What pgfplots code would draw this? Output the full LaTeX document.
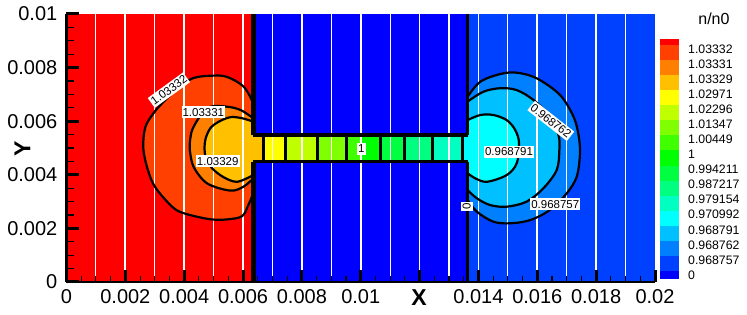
\documentclass[border=0pt]{standalone}
\usepackage{pgfplots}
\usepackage{pgfplotstable}
\usepackage{fontspec}
\setmainfont{Liberation Sans}
\pgfplotsset{compat=1.18}
\tikzset{contournode/.style={fill=white,inner xsep=1pt,inner ysep=0pt,minimum height=12pt,font=\fontsize{11.5}{11.5}\selectfont,text=black}}
\definecolor{c17}{RGB}{255,0,0}
\definecolor{c16}{RGB}{255,64,0}
\definecolor{c15}{RGB}{255,128,0}
\definecolor{c14}{RGB}{255,192,0}
\definecolor{c13}{RGB}{255,255,0}
\definecolor{c12}{RGB}{192,255,0}
\definecolor{c11}{RGB}{128,255,0}
\definecolor{c10}{RGB}{64,255,0}
\definecolor{c9}{RGB}{0,255,0}
\definecolor{c8}{RGB}{0,255,64}
\definecolor{c7}{RGB}{0,255,128}
\definecolor{c6}{RGB}{0,255,192}
\definecolor{c5}{RGB}{0,255,255}
\definecolor{c4}{RGB}{0,192,255}
\definecolor{c3}{RGB}{0,128,255}
\definecolor{c2}{RGB}{0,64,255}
\definecolor{c1}{RGB}{0,0,255}
\pgfplotstableread{
x y
0.00635 0.00667
0.00602 0.00729
0.00546 0.00765
0.00499 0.00770
0.00431 0.00761
0.00380 0.00724
0.00326 0.00668
0.00296 0.00630
0.00268 0.00578
0.00261 0.00500
0.00276 0.00420
0.00302 0.00353
0.00359 0.00281
0.00400 0.00256
0.00489 0.00234
0.00550 0.00234
0.00597 0.00246
0.00618 0.00287
0.00635 0.00332
}\outerL
\pgfplotstableread{
x y
0.00635 0.00611
0.00591 0.00642
0.00546 0.00654
0.00489 0.00654
0.00455 0.00620
0.00427 0.00567
0.00419 0.00518
0.00419 0.00493
0.00432 0.00430
0.00478 0.00368
0.00557 0.00341
0.00602 0.00356
0.00635 0.00387
}\midL
\pgfplotstableread{
x y
0.00635 0.00598
0.00597 0.00611
0.00557 0.00615
0.00517 0.00598
0.00489 0.00574
0.00473 0.00536
0.00469 0.00499
0.00474 0.00462
0.00495 0.00424
0.00534 0.00391
0.00580 0.00374
0.00635 0.00399
}\innerL
\pgfplotstableread{
x y
0.01363 0.00691
0.01406 0.00747
0.01474 0.00776
0.01530 0.00781
0.01598 0.00760
0.01677 0.00698
0.01723 0.00617
0.01740 0.00549
0.01745 0.00480
0.01734 0.00393
0.01700 0.00331
0.01643 0.00269
0.01576 0.00231
0.01508 0.00219
0.01451 0.00225
0.01395 0.00262
0.01363 0.00306
}\outerR
\pgfplotstableread{
x y
0.01363 0.00673
0.01417 0.00710
0.01474 0.00723
0.01530 0.00716
0.01587 0.00679
0.01643 0.00617
0.01672 0.00549
0.01675 0.00493
0.01666 0.00418
0.01621 0.00350
0.01564 0.00300
0.01496 0.00281
0.01440 0.00287
0.01395 0.00312
0.01363 0.00343
}\midR
\pgfplotstableread{
x y
0.01363 0.00604
0.01406 0.00623
0.01451 0.00623
0.01496 0.00604
0.01525 0.00567
0.01538 0.00518
0.01530 0.00443
0.01496 0.00399
0.01429 0.00374
0.01389 0.00387
0.01363 0.00406
}\innerR
\begin{document}
\begin{tikzpicture}
\useasboundingbox (-66.5pt,-33pt) rectangle (680.5pt,282pt);
\begin{axis}[
  scale only axis, width=588.5pt, height=268pt,
  at={(0pt,0pt)}, anchor=south west,
  xmin=0, xmax=0.02, ymin=0, ymax=0.01,
  scaled ticks=false,
  axis on top,
  axis x line=bottom, axis y line=left,
  x axis line style={-,line width=2.5pt},
  y axis line style={-,line width=3pt},
  xtick={0,0.002,0.004,0.006,0.008,0.01,0.012,0.014,0.016,0.018,0.02},
  xticklabels={0,0.002,0.004,0.006,0.008,0.01,{},0.014,0.016,0.018,0.02},
  ytick={0,0.002,0.004,0.006,0.008,0.01},
  yticklabels={0,0.002,0.004,0.006,0.008,0.01},
  tick align=inside,
  major tick length=12pt,
  major tick style={draw=black,line width=3pt},
  tick label style={font=\fontsize{20}{20}\selectfont},
  xticklabel style={inner sep=0pt,anchor=north,yshift=-7pt},
  yticklabel style={inner sep=0pt,anchor=east,xshift=-9pt},
  xlabel={X}, ylabel={Y},
  xlabel style={at={(0.599,0)},anchor=center,yshift=-16pt,font=\bfseries\fontsize{23}{23}\selectfont},
  ylabel style={at={(0,0.4963)},anchor=center,yshift=44pt,font=\bfseries\fontsize{23}{23}\selectfont},
]
% regions
\addplot[fill=c17,draw=none] coordinates {(0,0) (0.00635,0) (0.00635,0.01) (0,0.01)};
\addplot[fill=c1,draw=none] coordinates {(0.00635,0) (0.01363,0) (0.01363,0.01) (0.00635,0.01)};
\addplot[fill=c2,draw=none] coordinates {(0.01363,0) (0.02,0) (0.02,0.01) (0.01363,0.01)};
\addplot[fill=c16,draw=none,smooth,tension=0.55] table {\outerL};
\addplot[fill=c15,draw=none,smooth,tension=0.55] table {\midL};
\addplot[fill=c14,draw=none,smooth,tension=0.55] table {\innerL};
\addplot[fill=c3,draw=none,smooth,tension=0.55] table {\outerR};
\addplot[fill=c4,draw=none,smooth,tension=0.55] table {\midR};
\addplot[fill=c5,draw=none,smooth,tension=0.55] table {\innerR};
% channel
\addplot[fill=c14,draw=none] coordinates {(0.00635,0.00449) (0.00669,0.00449) (0.00669,0.00549) (0.00635,0.00549)};
\addplot[fill=c13,draw=none] coordinates {(0.00669,0.00449) (0.00745,0.00449) (0.00745,0.00549) (0.00669,0.00549)};
\addplot[fill=c12,draw=none] coordinates {(0.00745,0.00449) (0.00853,0.00449) (0.00853,0.00549) (0.00745,0.00549)};
\addplot[fill=c11,draw=none] coordinates {(0.00853,0.00449) (0.00951,0.00449) (0.00951,0.00549) (0.00853,0.00549)};
\addplot[fill=c10,draw=none] coordinates {(0.00951,0.00449) (0.01,0.00449) (0.01,0.00549) (0.00951,0.00549)};
\addplot[fill=c9,draw=none] coordinates {(0.01,0.00449) (0.01067,0.00449) (0.01067,0.00549) (0.01,0.00549)};
\addplot[fill=c8,draw=none] coordinates {(0.01067,0.00449) (0.01149,0.00449) (0.01149,0.00549) (0.01067,0.00549)};
\addplot[fill=c7,draw=none] coordinates {(0.01149,0.00449) (0.01244,0.00449) (0.01244,0.00549) (0.01149,0.00549)};
\addplot[fill=c6,draw=none] coordinates {(0.01244,0.00449) (0.01345,0.00449) (0.01345,0.00549) (0.01244,0.00549)};
\addplot[fill=c5,draw=none] coordinates {(0.01345,0.00449) (0.01363,0.00449) (0.01363,0.00549) (0.01345,0.00549)};
% white streamlines
\addplot[white,line width=1.1pt] coordinates {(0.001,0) (0.001,0.01)};
\addplot[white,line width=1.7pt] coordinates {(0.002,0) (0.002,0.01)};
\addplot[white,line width=1.1pt] coordinates {(0.003,0) (0.003,0.01)};
\addplot[white,line width=1.7pt] coordinates {(0.004,0) (0.004,0.01)};
\addplot[white,line width=1.1pt] coordinates {(0.005,0) (0.005,0.01)};
\addplot[white,line width=1.7pt] coordinates {(0.006,0) (0.006,0.01)};
\addplot[white,line width=1.1pt] coordinates {(0.007,0) (0.007,0.01)};
\addplot[white,line width=1.7pt] coordinates {(0.008,0) (0.008,0.01)};
\addplot[white,line width=1.1pt] coordinates {(0.009,0) (0.009,0.01)};
\addplot[white,line width=1.7pt] coordinates {(0.01,0) (0.01,0.01)};
\addplot[white,line width=1.1pt] coordinates {(0.011,0) (0.011,0.01)};
\addplot[white,line width=1.7pt] coordinates {(0.012,0) (0.012,0.01)};
\addplot[white,line width=1.1pt] coordinates {(0.013,0) (0.013,0.01)};
\addplot[white,line width=1.7pt] coordinates {(0.014,0) (0.014,0.01)};
\addplot[white,line width=1.1pt] coordinates {(0.015,0) (0.015,0.01)};
\addplot[white,line width=1.7pt] coordinates {(0.016,0) (0.016,0.01)};
\addplot[white,line width=1.1pt] coordinates {(0.017,0) (0.017,0.01)};
\addplot[white,line width=1.7pt] coordinates {(0.018,0) (0.018,0.01)};
\addplot[white,line width=1.1pt] coordinates {(0.019,0) (0.019,0.01)};
% minor ticks
\addplot[ycomb,black,line width=1.1pt] coordinates {(0.0005,0.00024) (0.001,0.00024) (0.0015,0.00024) (0.0025,0.00024) (0.003,0.00024) (0.0035,0.00024) (0.0045,0.00024) (0.005,0.00024) (0.0055,0.00024) (0.0065,0.00024) (0.007,0.00024) (0.0075,0.00024) (0.0085,0.00024) (0.009,0.00024) (0.0095,0.00024) (0.0105,0.00024) (0.011,0.00024) (0.0115,0.00024) (0.0125,0.00024) (0.013,0.00024) (0.0135,0.00024) (0.0145,0.00024) (0.015,0.00024) (0.0155,0.00024) (0.0165,0.00024) (0.017,0.00024) (0.0175,0.00024) (0.0185,0.00024) (0.019,0.00024) (0.0195,0.00024)};
\addplot[xcomb,black,line width=1.1pt] coordinates {(0.00026,0.0005) (0.00026,0.001) (0.00026,0.0015) (0.00026,0.0025) (0.00026,0.003) (0.00026,0.0035) (0.00026,0.0045) (0.00026,0.005) (0.00026,0.0055) (0.00026,0.0065) (0.00026,0.007) (0.00026,0.0075) (0.00026,0.0085) (0.00026,0.009) (0.00026,0.0095)};
% contours
\addplot[black,line width=2.2pt,smooth,tension=0.55] table {\outerL};
\addplot[black,line width=2.2pt,smooth,tension=0.55] table {\midL};
\addplot[black,line width=2.2pt,smooth,tension=0.55] table {\innerL};
\addplot[black,line width=2.2pt,smooth,tension=0.55] table {\outerR};
\addplot[black,line width=2.2pt,smooth,tension=0.55] table {\midR};
\addplot[black,line width=2.2pt,smooth,tension=0.55] table {\innerR};
% channel separators
\addplot[black,line width=3pt] coordinates {(0.00669,0.00449) (0.00669,0.00549)};
\addplot[black,line width=3pt] coordinates {(0.00745,0.00449) (0.00745,0.00549)};
\addplot[black,line width=3pt] coordinates {(0.00853,0.00449) (0.00853,0.00549)};
\addplot[black,line width=3pt] coordinates {(0.00951,0.00449) (0.00951,0.00549)};
\addplot[black,line width=3pt] coordinates {(0.01067,0.00449) (0.01067,0.00549)};
\addplot[black,line width=3pt] coordinates {(0.01149,0.00449) (0.01149,0.00549)};
\addplot[black,line width=3pt] coordinates {(0.01244,0.00449) (0.01244,0.00549)};
\addplot[black,line width=3pt] coordinates {(0.01345,0.00449) (0.01345,0.00549)};
% walls
\addplot[black,line width=5pt] coordinates {(0.00635,0) (0.00635,0.00449)};
\addplot[black,line width=5pt] coordinates {(0.00635,0.01) (0.00635,0.00549)};
\addplot[black,line width=3.5pt] coordinates {(0.01363,0) (0.01363,0.00449)};
\addplot[black,line width=3.5pt] coordinates {(0.01363,0.01) (0.01363,0.00549)};
\addplot[black,line width=3.5pt] coordinates {(0.00635,0.00449) (0.01363,0.00449)};
\addplot[black,line width=3.5pt] coordinates {(0.00635,0.00549) (0.01363,0.00549)};
% contour labels
\node[contournode,rotate=36] at (axis cs:0.00348,0.00716) {1.03332};
\node[contournode] at (axis cs:0.00465,0.00633) {1.03331};
\node[contournode] at (axis cs:0.00514,0.00451) {1.03329};
\node[contournode] at (axis cs:0.01002,0.00497) {1};
\node[contournode,rotate=90] at (axis cs:0.0136,0.00281) {0};
\node[contournode,rotate=-38] at (axis cs:0.01646,0.00601) {0.968762};
\node[contournode] at (axis cs:0.01504,0.00486) {0.968791};
\node[contournode] at (axis cs:0.01661,0.0029) {0.968757};
\end{axis}
\begin{axis}[
  scale only axis, width=19pt, height=240.3pt,
  at={(593.5pt,2.7pt)}, anchor=south west,
  xmin=0, xmax=1, ymin=-0.29, ymax=15.68,
  axis x line=none, axis y line=right,
  y axis line style={draw=none,-},
  ytick={0,1,2,3,4,5,6,7,8,9,10,11,12,13,14,15},
  yticklabels={0,0.968757,0.968762,0.968791,0.970992,0.979154,0.987217,0.994211,1,1.00449,1.01347,1.02296,1.02971,1.03329,1.03331,1.03332},
  major tick length=0pt,
  tick style={draw=none},
  yticklabel style={font=\fontsize{12.3}{12.3}\selectfont,inner sep=0pt,anchor=west,xshift=9pt},
  title={n/n0},
  title style={at={(2.84,1)},anchor=base,inner sep=0pt,yshift=8.3pt,font=\fontsize{16}{16}\selectfont},
]
\addplot[fill=c1,draw=none] coordinates {(0,-0.29) (1,-0.29) (1,0.27) (0,0.27)};
\addplot[fill=c2,draw=none] coordinates {(0,0.27) (1,0.27) (1,1.27) (0,1.27)};
\addplot[fill=c3,draw=none] coordinates {(0,1.27) (1,1.27) (1,2.27) (0,2.27)};
\addplot[fill=c4,draw=none] coordinates {(0,2.27) (1,2.27) (1,3.27) (0,3.27)};
\addplot[fill=c5,draw=none] coordinates {(0,3.27) (1,3.27) (1,4.27) (0,4.27)};
\addplot[fill=c6,draw=none] coordinates {(0,4.27) (1,4.27) (1,5.27) (0,5.27)};
\addplot[fill=c7,draw=none] coordinates {(0,5.27) (1,5.27) (1,6.27) (0,6.27)};
\addplot[fill=c8,draw=none] coordinates {(0,6.27) (1,6.27) (1,7.27) (0,7.27)};
\addplot[fill=c9,draw=none] coordinates {(0,7.27) (1,7.27) (1,8.27) (0,8.27)};
\addplot[fill=c10,draw=none] coordinates {(0,8.27) (1,8.27) (1,9.27) (0,9.27)};
\addplot[fill=c11,draw=none] coordinates {(0,9.27) (1,9.27) (1,10.27) (0,10.27)};
\addplot[fill=c12,draw=none] coordinates {(0,10.27) (1,10.27) (1,11.27) (0,11.27)};
\addplot[fill=c13,draw=none] coordinates {(0,11.27) (1,11.27) (1,12.27) (0,12.27)};
\addplot[fill=c14,draw=none] coordinates {(0,12.27) (1,12.27) (1,13.27) (0,13.27)};
\addplot[fill=c15,draw=none] coordinates {(0,13.27) (1,13.27) (1,14.27) (0,14.27)};
\addplot[fill=c16,draw=none] coordinates {(0,14.27) (1,14.27) (1,15.27) (0,15.27)};
\addplot[fill=c17,draw=none] coordinates {(0,15.27) (1,15.27) (1,15.68) (0,15.68)};
\end{axis}
\end{tikzpicture}
\end{document}
